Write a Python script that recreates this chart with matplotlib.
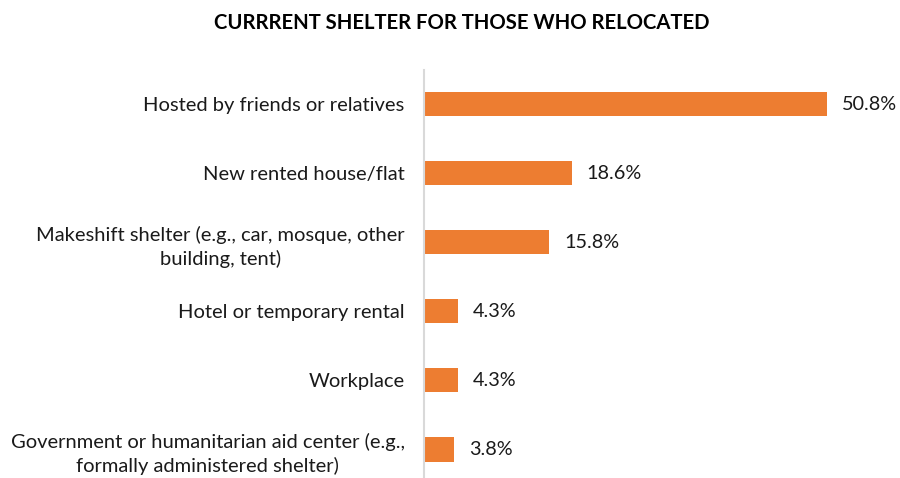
import matplotlib
matplotlib.use("Agg")
import matplotlib.pyplot as plt

categories = [
    "Hosted by friends or relatives",
    "New rented house/flat",
    "Makeshift shelter (e.g., car, mosque, other\nbuilding, tent)",
    "Hotel or temporary rental",
    "Workplace",
    "Government or humanitarian aid center (e.g.,\nformally administered shelter)",
]
values = [50.8, 18.6, 15.8, 4.3, 4.3, 3.8]
value_labels = ["50.8%", "18.6%", "15.8%", "4.3%", "4.3%", "3.8%"]
title = "CURRRENT SHELTER FOR THOSE WHO RELOCATED"

FONT = ["Lato", "DejaVu Sans"]
BAR_COLOR = "#ED7D31"
TEXT_COLOR = "#1a1a1a"

fig = plt.figure(figsize=(9, 4.78), dpi=100)
ax = fig.add_axes([0.4711, -0.0126, 0.5289, 0.8672])

y = list(range(len(categories)))
ax.barh(y, values, height=0.35, color=BAR_COLOR, zorder=2)
ax.set_ylim(len(categories) - 0.5, -0.5)
ax.set_xlim(0, 60.0)

for yi, v, lab in zip(y, values, value_labels):
    ax.annotate(lab, xy=(v, yi), xytext=(10.5, 0), textcoords="offset points",
                ha="left", va="center", fontsize=14.3, family=FONT,
                color=TEXT_COLOR)

ax.set_yticks(y)
ax.set_yticklabels(categories, fontsize=14.5, family=FONT, color=TEXT_COLOR,
                   multialignment="center", linespacing=1.42)
ax.tick_params(axis="y", length=0, pad=14)
ax.set_xticks([])

for side in ("top", "right", "bottom"):
    ax.spines[side].set_visible(False)
ax.spines["left"].set_color("#d9d9d9")
ax.spines["left"].set_linewidth(1.5)

fig.text(0.5135, 0.952, title, ha="center", va="center", fontsize=14.6,
         fontweight="bold", family=FONT, color="#000000")

fig.savefig("out.png", dpi=100)
